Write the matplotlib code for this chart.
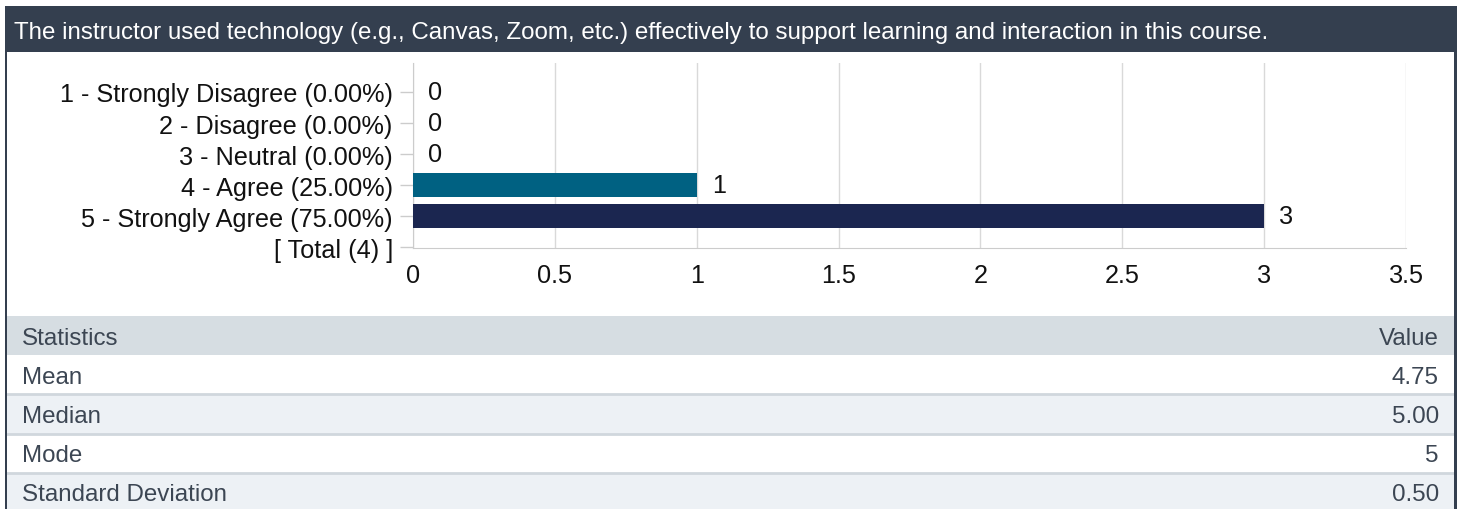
import matplotlib
matplotlib.use('Agg')
import matplotlib.pyplot as plt
from matplotlib.patches import Rectangle

plt.rcParams['font.family'] = ['Liberation Sans', 'DejaVu Sans']

# data
title = 'The instructor used technology (e.g., Canvas, Zoom, etc.) effectively to support learning and interaction in this course.'
categories = ['1 - Strongly Disagree (0.00%)', '2 - Disagree (0.00%)', '3 - Neutral (0.00%)',
              '4 - Agree (25.00%)', '5 - Strongly Agree (75.00%)', '[ Total (4) ]']
counts = [0, 0, 0, 1, 3]
bar_colors = ['#1b2650', '#1b2650', '#1b2650', '#006182', '#1b2650']
x_ticks = [0, 0.5, 1, 1.5, 2, 2.5, 3, 3.5]
x_tick_labels = ['0', '0.5', '1', '1.5', '2', '2.5', '3', '3.5']
stat_names = ['Mean', 'Median', 'Mode', 'Standard Deviation']
stat_values = ['4.75', '5.00', '5', '0.50']

W, H = 1463, 510
fig = plt.figure(figsize=(W / 100, H / 100), dpi=100)
fig.patch.set_facecolor('white')

def px_axes(x0, y0, x1, y1):
    # pixel box (top-left origin) -> figure axes
    return fig.add_axes([x0 / W, 1 - y1 / H, (x1 - x0) / W, (y1 - y0) / H])

dark = '#343f4f'

# header bar and panel borders
fig.patches.append(Rectangle((5 / W, 1 - 53 / H), 1452 / W, 46 / H, transform=fig.transFigure,
                             facecolor=dark, edgecolor='none', zorder=0))
fig.patches.append(Rectangle((5 / W, 0), 2 / W, 1 - 53 / H, transform=fig.transFigure,
                             facecolor=dark, edgecolor='none', zorder=0))
fig.patches.append(Rectangle((1454 / W, 0), 3 / W, 1 - 53 / H, transform=fig.transFigure,
                             facecolor=dark, edgecolor='none', zorder=0))
fig.text(14 / W, 1 - 33 / H, title, color='white', fontsize=17.4, va='center', ha='left')

# bar chart
ax = px_axes(413, 64, 1406, 249)
ypos = list(range(len(categories)))
ax.barh(ypos[:len(counts)], counts, height=0.8, color=bar_colors, zorder=3)
for y, v in zip(ypos, counts):
    ax.annotate(str(v), (v, y), xytext=(11, 0), textcoords='offset points',
                va='center', ha='left', fontsize=18.2, color='#111111')
ax.set_xlim(0, 3.5)
ax.set_ylim(5.03, -0.935)
ax.set_yticks(ypos)
ax.set_yticklabels(categories, fontsize=18.2, color='#111111')
ax.set_xticks(x_ticks)
ax.set_xticklabels(x_tick_labels, fontsize=18.2, color='#111111')
ax.tick_params(axis='y', length=9.5, width=1, color='#cccccc', pad=5)
ax.tick_params(axis='x', length=0, pad=11)
ax.grid(axis='x', color='#d9d9d9', linewidth=1, zorder=0)
for s in ['top', 'right']:
    ax.spines[s].set_visible(False)
ax.spines['left'].set_color('#cccccc')
ax.spines['bottom'].set_color('#cccccc')

# statistics table
tax = px_axes(7, 317, 1454, 513)
tax.set_xlim(0, 1)
tax.set_ylim(len(stat_names) + 1, 0)
tax.axis('off')
tax.axhspan(0, 1, color='#d6dde2', lw=0)
for i, (name, val) in enumerate(zip(stat_names, stat_values)):
    r = i + 1
    tax.axhspan(r, r + 1, color='white' if i % 2 == 0 else '#edf1f5', lw=0)
    if i > 0:
        tax.axhline(r, color='#d0d7dd', lw=2)
    tax.text(15 / 1447, r + 0.55, name, va='center', ha='left', fontsize=17.4, color='#3c4653')
    tax.text(1 - 15 / 1447, r + 0.55, val, va='center', ha='right', fontsize=17.4, color='#3c4653')
tax.text(15 / 1447, 0.55, 'Statistics', va='center', ha='left', fontsize=17.4, color='#3c4653')
tax.text(1 - 15 / 1447, 0.55, 'Value', va='center', ha='right', fontsize=17.4, color='#3c4653')

fig.savefig('out.png', dpi=100)
